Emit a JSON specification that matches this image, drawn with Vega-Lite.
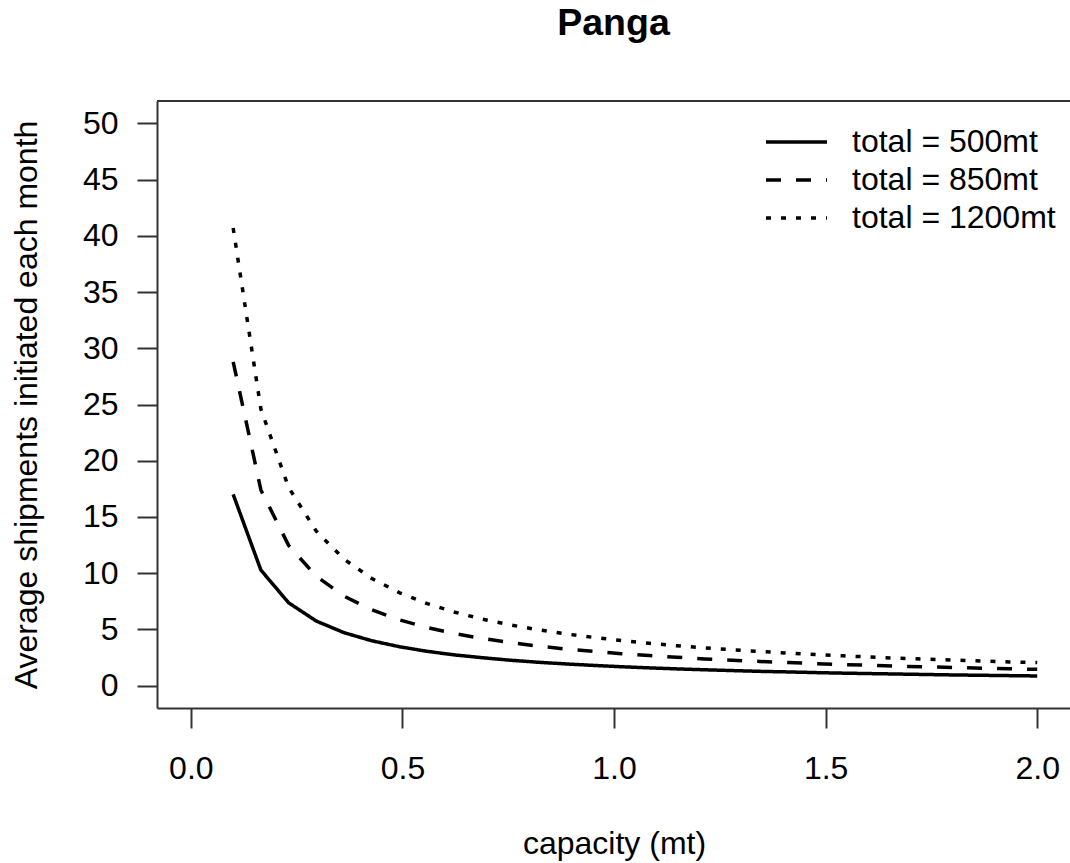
{
  "$schema": "https://vega.github.io/schema/vega-lite/v6.json",
  "autosize": "none",
  "width": 913,
  "height": 607,
  "padding": {"left": 157, "top": 101, "right": 0, "bottom": 155},
  "background": "white",
  "title": {
    "text": "Panga",
    "font": "Liberation Sans",
    "fontSize": 37.5,
    "fontWeight": "bold",
    "color": "black",
    "anchor": "middle",
    "frame": "group",
    "baseline": "alphabetic",
    "offset": 28
  },
  "config": {
    "view": {"stroke": null},
    "axis": {
      "grid": false,
      "labelFont": "Liberation Sans",
      "labelFontSize": 32,
      "labelColor": "black",
      "titleFont": "Liberation Sans",
      "titleFontSize": 32,
      "titleFontWeight": "normal",
      "titleColor": "black",
      "tickColor": "#333",
      "tickWidth": 2,
      "tickSize": 20,
      "domainColor": "#333",
      "domainWidth": 2,
      "labelOverlap": false,
      "labelFlush": false
    },
    "legend": {
      "labelFont": "Liberation Sans",
      "labelFontSize": 32,
      "labelColor": "black",
      "labelLimit": 0
    }
  },
  "data": {
    "values": [
      {"x": 0.1, "y": 17.0, "series": "total = 500mt"},
      {"x": 0.1655, "y": 10.27, "series": "total = 500mt"},
      {"x": 0.231, "y": 7.36, "series": "total = 500mt"},
      {"x": 0.2966, "y": 5.73, "series": "total = 500mt"},
      {"x": 0.3621, "y": 4.70, "series": "total = 500mt"},
      {"x": 0.4276, "y": 3.98, "series": "total = 500mt"},
      {"x": 0.4931, "y": 3.45, "series": "total = 500mt"},
      {"x": 0.5586, "y": 3.04, "series": "total = 500mt"},
      {"x": 0.6241, "y": 2.72, "series": "total = 500mt"},
      {"x": 0.6897, "y": 2.47, "series": "total = 500mt"},
      {"x": 0.7552, "y": 2.25, "series": "total = 500mt"},
      {"x": 0.8207, "y": 2.07, "series": "total = 500mt"},
      {"x": 0.8862, "y": 1.92, "series": "total = 500mt"},
      {"x": 0.9517, "y": 1.79, "series": "total = 500mt"},
      {"x": 1.0172, "y": 1.67, "series": "total = 500mt"},
      {"x": 1.0828, "y": 1.57, "series": "total = 500mt"},
      {"x": 1.1483, "y": 1.48, "series": "total = 500mt"},
      {"x": 1.2138, "y": 1.40, "series": "total = 500mt"},
      {"x": 1.2793, "y": 1.33, "series": "total = 500mt"},
      {"x": 1.3448, "y": 1.26, "series": "total = 500mt"},
      {"x": 1.4103, "y": 1.21, "series": "total = 500mt"},
      {"x": 1.4759, "y": 1.15, "series": "total = 500mt"},
      {"x": 1.5414, "y": 1.10, "series": "total = 500mt"},
      {"x": 1.6069, "y": 1.06, "series": "total = 500mt"},
      {"x": 1.6724, "y": 1.02, "series": "total = 500mt"},
      {"x": 1.7379, "y": 0.98, "series": "total = 500mt"},
      {"x": 1.8034, "y": 0.94, "series": "total = 500mt"},
      {"x": 1.869, "y": 0.91, "series": "total = 500mt"},
      {"x": 1.9345, "y": 0.88, "series": "total = 500mt"},
      {"x": 2.0, "y": 0.85, "series": "total = 500mt"},
      {"x": 0.1, "y": 28.8, "series": "total = 850mt"},
      {"x": 0.1655, "y": 17.40, "series": "total = 850mt"},
      {"x": 0.231, "y": 12.47, "series": "total = 850mt"},
      {"x": 0.2966, "y": 9.71, "series": "total = 850mt"},
      {"x": 0.3621, "y": 7.95, "series": "total = 850mt"},
      {"x": 0.4276, "y": 6.74, "series": "total = 850mt"},
      {"x": 0.4931, "y": 5.84, "series": "total = 850mt"},
      {"x": 0.5586, "y": 5.16, "series": "total = 850mt"},
      {"x": 0.6241, "y": 4.61, "series": "total = 850mt"},
      {"x": 0.6897, "y": 4.18, "series": "total = 850mt"},
      {"x": 0.7552, "y": 3.81, "series": "total = 850mt"},
      {"x": 0.8207, "y": 3.51, "series": "total = 850mt"},
      {"x": 0.8862, "y": 3.25, "series": "total = 850mt"},
      {"x": 0.9517, "y": 3.03, "series": "total = 850mt"},
      {"x": 1.0172, "y": 2.83, "series": "total = 850mt"},
      {"x": 1.0828, "y": 2.66, "series": "total = 850mt"},
      {"x": 1.1483, "y": 2.51, "series": "total = 850mt"},
      {"x": 1.2138, "y": 2.37, "series": "total = 850mt"},
      {"x": 1.2793, "y": 2.25, "series": "total = 850mt"},
      {"x": 1.3448, "y": 2.14, "series": "total = 850mt"},
      {"x": 1.4103, "y": 2.04, "series": "total = 850mt"},
      {"x": 1.4759, "y": 1.95, "series": "total = 850mt"},
      {"x": 1.5414, "y": 1.87, "series": "total = 850mt"},
      {"x": 1.6069, "y": 1.79, "series": "total = 850mt"},
      {"x": 1.6724, "y": 1.72, "series": "total = 850mt"},
      {"x": 1.7379, "y": 1.66, "series": "total = 850mt"},
      {"x": 1.8034, "y": 1.60, "series": "total = 850mt"},
      {"x": 1.869, "y": 1.54, "series": "total = 850mt"},
      {"x": 1.9345, "y": 1.49, "series": "total = 850mt"},
      {"x": 2.0, "y": 1.44, "series": "total = 850mt"},
      {"x": 0.1, "y": 40.7, "series": "total = 1200mt"},
      {"x": 0.1655, "y": 24.59, "series": "total = 1200mt"},
      {"x": 0.231, "y": 17.62, "series": "total = 1200mt"},
      {"x": 0.2966, "y": 13.72, "series": "total = 1200mt"},
      {"x": 0.3621, "y": 11.24, "series": "total = 1200mt"},
      {"x": 0.4276, "y": 9.52, "series": "total = 1200mt"},
      {"x": 0.4931, "y": 8.25, "series": "total = 1200mt"},
      {"x": 0.5586, "y": 7.29, "series": "total = 1200mt"},
      {"x": 0.6241, "y": 6.52, "series": "total = 1200mt"},
      {"x": 0.6897, "y": 5.90, "series": "total = 1200mt"},
      {"x": 0.7552, "y": 5.39, "series": "total = 1200mt"},
      {"x": 0.8207, "y": 4.96, "series": "total = 1200mt"},
      {"x": 0.8862, "y": 4.59, "series": "total = 1200mt"},
      {"x": 0.9517, "y": 4.28, "series": "total = 1200mt"},
      {"x": 1.0172, "y": 4.00, "series": "total = 1200mt"},
      {"x": 1.0828, "y": 3.76, "series": "total = 1200mt"},
      {"x": 1.1483, "y": 3.54, "series": "total = 1200mt"},
      {"x": 1.2138, "y": 3.35, "series": "total = 1200mt"},
      {"x": 1.2793, "y": 3.18, "series": "total = 1200mt"},
      {"x": 1.3448, "y": 3.03, "series": "total = 1200mt"},
      {"x": 1.4103, "y": 2.89, "series": "total = 1200mt"},
      {"x": 1.4759, "y": 2.76, "series": "total = 1200mt"},
      {"x": 1.5414, "y": 2.64, "series": "total = 1200mt"},
      {"x": 1.6069, "y": 2.53, "series": "total = 1200mt"},
      {"x": 1.6724, "y": 2.43, "series": "total = 1200mt"},
      {"x": 1.7379, "y": 2.34, "series": "total = 1200mt"},
      {"x": 1.8034, "y": 2.26, "series": "total = 1200mt"},
      {"x": 1.869, "y": 2.18, "series": "total = 1200mt"},
      {"x": 1.9345, "y": 2.10, "series": "total = 1200mt"},
      {"x": 2.0, "y": 2.04, "series": "total = 1200mt"}
    ]
  },
  "layer": [
    {
      "mark": {"type": "line", "color": "black", "strokeWidth": 3.5, "strokeCap": "butt", "strokeJoin": "round"},
      "encoding": {
        "x": {
          "field": "x",
          "type": "quantitative",
          "title": "capacity (mt)",
          "scale": {"domain": [-0.08, 2.0775], "nice": false, "zero": false},
          "axis": {
            "values": [0, 0.5, 1, 1.5, 2],
            "format": ".1f",
            "labelPadding": 25,
            "titleX": 457,
            "titleY": 120
          }
        },
        "y": {
          "field": "y",
          "type": "quantitative",
          "title": "Average shipments initiated each month",
          "scale": {"domain": [-2, 52], "nice": false, "zero": false},
          "axis": {
            "values": [0, 5, 10, 15, 20, 25, 30, 35, 40, 45, 50],
            "labelPadding": 19,
            "titleX": -114,
            "titleY": 303.5
          }
        },
        "strokeDash": {
          "field": "series",
          "type": "nominal",
          "scale": {
            "domain": ["total = 500mt", "total = 850mt", "total = 1200mt"],
            "range": [[1, 0], [15, 15], [5, 10]]
          },
          "legend": {
            "title": null,
            "orient": "none",
            "legendX": 607,
            "legendY": 23,
            "symbolType": "stroke",
            "symbolSize": 3721,
            "symbolStrokeWidth": 3.5,
            "symbolStrokeColor": "black",
            "labelOffset": 23,
            "clipHeight": 36,
            "rowPadding": 2,
            "padding": 0
          }
        }
      }
    },
    {
      "mark": {"type": "rule", "color": "#333", "strokeWidth": 2},
      "encoding": {"y": {"datum": 52}}
    }
  ]
}
